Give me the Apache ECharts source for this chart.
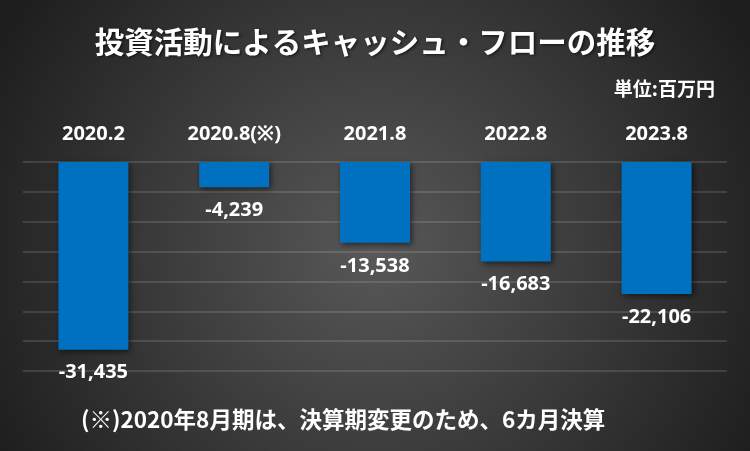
<!DOCTYPE html>
<html>
<head>
<meta charset="utf-8">
<script src="https://cdn.jsdelivr.net/npm/echarts@6/dist/echarts.min.js"></script>
<style>html,body{margin:0;padding:0;background:#333;}#c{width:750px;height:451px;}</style>
</head>
<body>
<div id="c"></div>
<script>
const categories = ['2020.2', '2020.8(※)', '2021.8', '2022.8', '2023.8'];
const values = [-31435, -4239, -13538, -16683, -22106];
const titleText = '投資活動によるキャッシュ・フローの推移';
const unitText = '単位:百万円';
const noteText = '(※)2020年8月期は、決算期変更のため、6カ月決算';

const chart = echarts.init(document.getElementById('c'));
const shadow = {textShadowColor: 'rgba(0,0,0,0.6)', textShadowBlur: 3, textShadowOffsetX: 1.5, textShadowOffsetY: 1.5};
chart.setOption({
  backgroundColor: {
    type: 'radial', x: 0.5, y: 0.55, r: 0.95,
    colorStops: [{offset: 0, color: '#585858'}, {offset: 1, color: '#1e1e1e'}]
  },
  title: [
    {text: titleText, left: 'center', top: 22,
     textStyle: Object.assign({color: '#ffffff', fontSize: 29.5, fontWeight: 'bold', fontFamily: 'Noto Sans CJK JP'}, shadow)},
    {text: unitText, right: 30, top: 74,
     textStyle: {color: '#ffffff', fontSize: 19, fontWeight: 'bold', fontFamily: 'Noto Sans CJK JP'}},
    {text: noteText, left: 76, top: 403,
     textStyle: {color: '#ffffff', fontSize: 22.5, fontWeight: 'bold', fontFamily: 'Noto Sans CJK JP'}}
  ],
  grid: {left: 23, right: 23, top: 162, bottom: 80},
  xAxis: {
    type: 'category', data: categories, position: 'top',
    axisLine: {show: false}, axisTick: {show: false},
    axisLabel: {color: '#ffffff', fontSize: 20, fontWeight: 'bold', fontFamily: 'Open Sans', margin: 18}
  },
  yAxis: {
    type: 'value', min: -35000, max: 0, interval: 5000,
    axisLabel: {show: false}, axisLine: {show: false}, axisTick: {show: false},
    splitLine: {lineStyle: {color: 'rgba(255,255,255,0.17)', width: 1.5}}
  },
  series: [{
    type: 'bar', data: values, barWidth: 70,
    itemStyle: {color: '#0070C0', shadowColor: 'rgba(0,0,0,0.55)', shadowBlur: 6, shadowOffsetX: 2, shadowOffsetY: 2},
    label: {
      show: true, position: 'bottom', distance: 13,
      color: '#ffffff', fontSize: 20, fontWeight: 'bold', fontFamily: 'Open Sans',
      formatter: p => p.value.toLocaleString('en-US')
    }
  }]
});
</script>
</body>
</html>
